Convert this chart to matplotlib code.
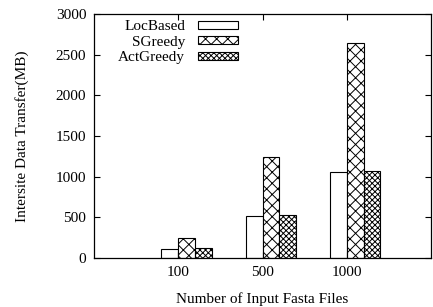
import numpy as np
import matplotlib
matplotlib.use('Agg')
import matplotlib.pyplot as plt
from matplotlib import rcParams

rcParams['font.family'] = 'Liberation Serif'
rcParams['font.size'] = 11
rcParams['hatch.linewidth'] = 0.7

categories = ['100', '500', '1000']
series = ['LocBased', 'SGreedy', 'ActGreedy']
loc_based = [110, 515, 1060]
s_greedy = [245, 1245, 2645]
act_greedy = [118, 523, 1068]
values = [loc_based, s_greedy, act_greedy]
hatches = ['', 'xxx', 'xxxxxx']

fig = plt.figure(figsize=(4.33, 3.07), dpi=100)
ax = fig.add_axes([94 / 433, 49 / 307, 337 / 433, 244 / 307])

x = np.arange(len(categories))
width = 0.2
for i in range(len(series)):
    ax.bar(x + (i - 0.5) * width, values[i], width, color='white', edgecolor='black',
           linewidth=0.8, hatch=hatches[i], label=series[i])

ax.set_xlim(-1, 3)
ax.set_ylim(0, 3000)
ax.set_xticks(x)
ax.set_xticklabels(categories)
ax.set_yticks(np.arange(0, 3001, 500))
ax.tick_params(direction='in', top=True, right=True, length=4, width=0.8)
ax.tick_params(axis='y', pad=5.5)
ax.tick_params(axis='x', pad=6)
for s in ax.spines.values():
    s.set_linewidth(0.9)

ax.set_xlabel('Number of Input Fasta Files', labelpad=9)
ax.set_ylabel('Intersite Data Transfer(MB)', labelpad=19)

ax.legend(loc='upper right', bbox_to_anchor=(0.445, 1.0), frameon=False, markerfirst=False,
          handlelength=2.6, handleheight=0.4, labelspacing=0.17, handletextpad=0.85,
          borderaxespad=0.2, borderpad=0.2)

plt.savefig('out.png', dpi=100)
